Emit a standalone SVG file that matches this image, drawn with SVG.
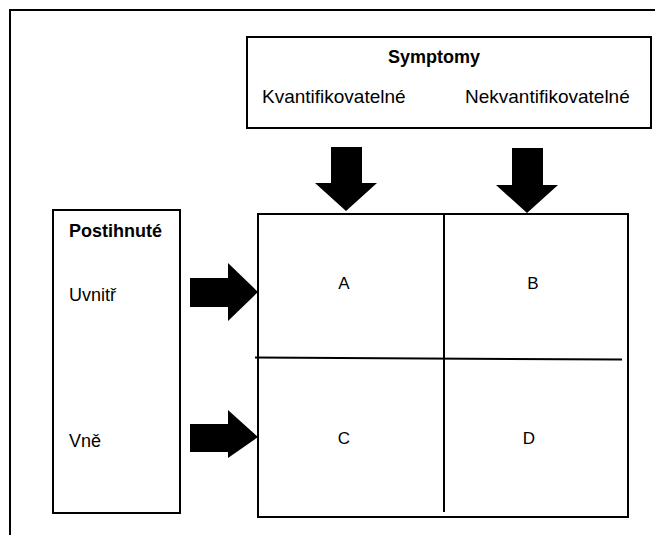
<svg xmlns="http://www.w3.org/2000/svg" width="655" height="535" viewBox="0 0 655 535">
<style>
.box{fill:#fff;stroke:#000;stroke-width:2}
.ln{stroke:#000;stroke-width:2;fill:none}
.t{font-family:"Liberation Sans",Arial,sans-serif;font-size:18px;fill:#000}
.s{font-size:19px}
.l{font-size:17px}
.b{font-weight:bold}
.arr{fill:#000}
</style>
<rect width="655" height="535" fill="#fff"/>
<g id="frame"><path class="ln" d="M10,535 V10 H655"/></g>
<g id="symptomy">
<rect class="box" x="247" y="37" width="404" height="91"/>
<text class="t b" x="434" y="63" text-anchor="middle">Symptomy</text>
<text class="t s" x="262" y="103">Kvantifikovatelné</text>
<text class="t s" x="465" y="103">Nekvantifikovatelné</text>
</g>
<g id="postihnute">
<rect class="box" x="53" y="210" width="127" height="303"/>
<text class="t b" x="69" y="237">Postihnuté</text>
<text class="t" x="69" y="301">Uvnitř</text>
<text class="t" x="69" y="447">Vně</text>
</g>
<g id="matrix">
<rect class="box" x="258" y="214" width="370" height="303"/>
<path class="ln" d="M444,214 V512"/>
<path class="ln" d="M255,357.5 L622,359.5"/>
</g>
<g id="A"><text class="t l" x="344" y="289" text-anchor="middle">A</text></g>
<g id="B"><text class="t l" x="533" y="289" text-anchor="middle">B</text></g>
<g id="C"><text class="t l" x="344" y="444" text-anchor="middle">C</text></g>
<g id="D"><text class="t l" x="529" y="444" text-anchor="middle">D</text></g>
<g id="connectors">
<polygon class="arr" points="331,147 362,147 362,183 377,183 346,211 315,183 331,183"/>
<polygon class="arr" points="512,148 543,148 543,185 558,185 527,213 496,185 512,185"/>
<polygon class="arr" points="190,278 228,278 228,263 258,292 228,321 228,307 190,307"/>
<polygon class="arr" points="190,424 228,424 228,410 258,437 228,458 228,452 190,452"/>
</g>
</svg>
